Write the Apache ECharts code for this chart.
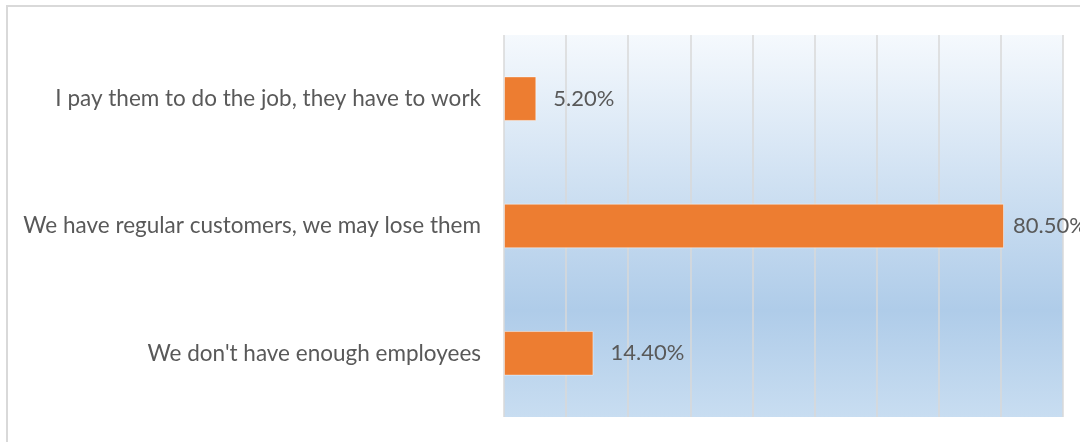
<!DOCTYPE html>
<html>
<head>
<meta charset="utf-8">
<script src="https://cdn.jsdelivr.net/npm/echarts@6/dist/echarts.min.js"></script>
<style>
  html, body { margin: 0; padding: 0; background: #ffffff; }
  #chart { width: 1080px; height: 442px; }
</style>
</head>
<body>
<div id="chart"></div>
<script>
// Survey answers, listed top to bottom
const categories = [
  'I pay them to do the job, they have to work',
  'We have regular customers, we may lose them',
  "We don't have enough employees"
];
const shares = [5.2, 80.5, 14.4];
const labelGaps = [17, 9, 17];

const FONT = 'Lato';
const TEXT = '#595959';

const chart = echarts.init(document.getElementById('chart'), null, { renderer: 'canvas' });

chart.setOption({
  animation: false,
  backgroundColor: '#ffffff',
  graphic: [{
    type: 'rect',
    shape: { x: 7, y: 6, width: 1200, height: 600 },
    style: { fill: 'none', stroke: '#d9d9d9', lineWidth: 2 },
    z: 0
  }],
  grid: {
    left: 504, right: 17, top: 35, bottom: 25,
    show: true,
    borderWidth: 0,
    backgroundColor: new echarts.graphic.LinearGradient(0, 0, 0, 1, [
      { offset: 0, color: '#f5f9fd' },
      { offset: 0.72, color: '#afcce9' },
      { offset: 1, color: '#c8ddf1' }
    ])
  },
  xAxis: {
    type: 'value',
    min: 0, max: 90, interval: 10,
    axisLabel: { show: false },
    axisLine: { show: false },
    axisTick: { show: false },
    splitLine: { show: true, lineStyle: { color: '#d9d9d9', width: 1.5 } }
  },
  yAxis: {
    type: 'category',
    data: categories,
    inverse: true,
    axisLine: { show: false },
    axisTick: { show: false },
    axisLabel: { color: TEXT, fontFamily: FONT, fontSize: 22.5, margin: 23 }
  },
  series: [{
    type: 'bar',
    barWidth: '35%',
    data: shares.map((v, i) => ({ value: v, label: { distance: labelGaps[i] } })),
    itemStyle: { color: '#ed7d31', borderColor: 'rgba(255,255,255,0.45)', borderWidth: 1 },
    label: {
      show: true,
      position: 'right',
      color: TEXT,
      fontFamily: FONT,
      fontSize: 22,
      formatter: p => p.value.toFixed(2) + '%'
    }
  }]
});
</script>
</body>
</html>
